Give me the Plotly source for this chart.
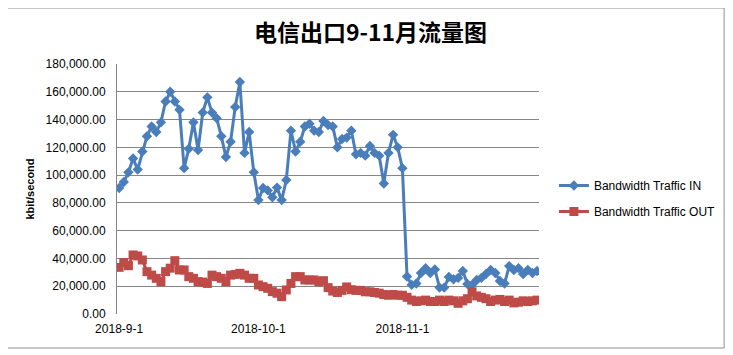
import plotly.graph_objects as go
import pandas as pd

dates = pd.date_range("2018-09-01", "2018-11-30", freq="D")

traffic_in = [
    90.7, 95, 102, 112, 104, 117, 128, 135, 131, 138,
    153, 160, 153, 147, 105, 119, 138, 118, 145, 156,
    145, 141, 128, 113, 124, 149, 167, 116, 131, 102,
    82, 90.7, 89, 84, 91, 82, 96.5, 132, 117, 124,
    135, 137, 132, 131, 139, 136, 135, 120, 126, 127,
    132, 115, 116, 114, 121, 116, 114, 94, 116, 129,
    120, 105, 27, 21, 22, 29.5, 33, 29.5, 32, 19,
    19, 26.6, 25, 26, 31, 21.6, 21, 24.5, 26, 28.8,
    31.7, 29.5, 23.8, 22, 34.5, 31.7, 33, 28.8, 31.7, 29.5,
    31,
]
traffic_out = [
    33.6, 37, 34.8, 42.5, 41.8, 38.9, 30.5, 28, 25.7, 23.3,
    30.5, 33, 38.4, 31.7, 31.7, 26.9, 25.7, 23.3, 23, 22,
    28, 26.9, 25.7, 23.3, 28, 28.5, 29.3, 28, 25.7, 25.7,
    20.9, 19.7, 18.5, 16.1, 15, 12.5, 17.3, 22, 26.9, 26.9,
    24.5, 24.5, 24.5, 23.3, 24, 19, 16.5, 15.5, 17, 19.5,
    17.5, 17, 17, 16, 16, 15.5, 15, 14, 13.5, 14,
    13.5, 13.5, 12, 10, 9, 9.5, 10, 9, 9, 10,
    9, 10, 9.5, 7.7, 9.5, 11, 16, 13, 12, 11,
    9, 10, 10.5, 9, 10, 8, 8.5, 9.5, 9, 9.5,
    10,
]
traffic_in = [v * 1000 for v in traffic_in]
traffic_out = [v * 1000 for v in traffic_out]

tick_dates = ["2018-09-01", "2018-10-01", "2018-11-01"]
tick_labels = ["2018-9-1", "2018-10-1", "2018-11-1"]
y_ticks = list(range(0, 180001, 20000))
y_labels = [f"{v:,.2f}" for v in y_ticks]

fig = go.Figure()
fig.add_trace(go.Scatter(
    x=dates, y=traffic_in, mode="lines+markers", name="Bandwidth Traffic IN",
    legendgroup="a",
    line=dict(color="#4A7EBB", width=3),
    marker=dict(symbol="diamond", size=8, color="#4A7EBB"),
))
fig.add_trace(go.Scatter(
    x=dates, y=traffic_out, mode="lines+markers", name="Bandwidth Traffic OUT",
    legendgroup="b",
    line=dict(color="#BE4B48", width=3),
    marker=dict(symbol="square", size=9, color="#BE4B48"),
))

# page has an 8px body margin; work in page coordinates and convert
OFF = 8
W, H = 733 - OFF, 355 - OFF
L, T = 117 - OFF, 64 - OFF
R = W - (541 - OFF)
B = H - (314 - OFF)
pw, ph = W - L - R, H - T - B
def px(x):
    return (x - OFF - L) / pw
def py(y):
    return (H - B - (y - OFF)) / ph

fig.update_layout(
    width=W, height=H,
    margin=dict(l=L, r=R, t=T, b=B),
    paper_bgcolor="white",
    plot_bgcolor="white",
    font=dict(family="Liberation Sans, Arial, sans-serif", size=12, color="black"),
    title=dict(text="<b>电信出口9-11月流量图</b>", x=0.5,
               xref="container", xanchor="center",
               y=1 - (33 - OFF) / H, yref="container", yanchor="middle",
               font=dict(family="Noto Sans CJK SC", size=23, color="black")),
    showlegend=True,
    legend=dict(x=px(556), y=py(171), xanchor="left", yanchor="top",
                traceorder="grouped", tracegroupgap=7,
                font=dict(size=12, color="black"), bgcolor="rgba(0,0,0,0)"),
    xaxis=dict(
        range=["2018-08-31 13:00", "2018-11-30 10:00"],
        tickvals=tick_dates, ticktext=tick_labels,
        showgrid=False, showline=False, zeroline=False,
        ticks="", tickfont=dict(size=12), ticklabelstandoff=6,
    ),
    yaxis=dict(
        range=[0, 180000], tickvals=y_ticks, ticktext=y_labels,
        showgrid=True, gridcolor="#868686", gridwidth=1,
        showline=True, linecolor="#868686", linewidth=1,
        zeroline=False, ticks="", tickfont=dict(size=12), ticklabelstandoff=8,
        title=dict(text="<b>kbit/second</b>", font=dict(size=11), standoff=8),
    ),
    shapes=[dict(type="rect", xref="paper", yref="paper",
                 x0=px(5), x1=px(727), y0=py(348), y1=py(8),
                 line=dict(color="#8e8e8e", width=1), fillcolor="white", layer="below")],
)

fig.write_html("out.html")
